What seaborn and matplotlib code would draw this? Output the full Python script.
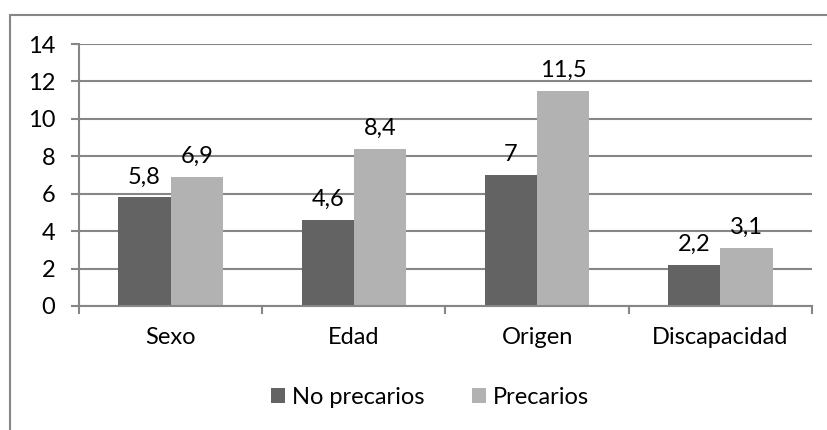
import pandas as pd
import matplotlib.pyplot as plt
import seaborn as sns
from matplotlib.patches import Rectangle

# Data
categorias = ['Sexo', 'Edad', 'Origen', 'Discapacidad']
no_precarios = [5.8, 4.6, 7.0, 2.2]
precarios = [6.9, 8.4, 11.5, 3.1]
series = ['No precarios', 'Precarios']
etiquetas_y = [0, 2, 4, 6, 8, 10, 12, 14]

df = pd.DataFrame({
    'Categoria': categorias * 2,
    'Serie': [series[0]] * 4 + [series[1]] * 4,
    'Valor': no_precarios + precarios,
})

sns.set_theme(style='white')
plt.rcParams['font.family'] = ['Lato', 'DejaVu Sans']
plt.rcParams['text.color'] = 'black'
plt.rcParams['xtick.color'] = 'black'
plt.rcParams['ytick.color'] = 'black'

fs = 17
grid_col = '#868686'
fig = plt.figure(figsize=(8.28, 4.30), dpi=100)
ax = fig.add_axes([79 / 828, 1 - 306 / 430, (812 - 79) / 828, (306 - 44) / 430])

# outer chart border (Excel-like frame)
fig.patches.append(Rectangle((10 / 828, -0.1), 1.2, 1 - 15 / 430 + 0.1,
                             transform=fig.transFigure, fill=False,
                             edgecolor=grid_col, linewidth=1.5))

sns.barplot(data=df, x='Categoria', y='Valor', hue='Serie',
            palette=['#636363', '#b2b2b2'], width=0.57, gap=0,
            saturation=1, edgecolor='none', ax=ax)

ax.set_ylim(0, 14)
ax.set_xlim(-0.5, 3.5)
ax.set_yticks(etiquetas_y)
ax.set_yticklabels([str(v) for v in etiquetas_y], fontsize=fs)
ax.yaxis.grid(True, color=grid_col, linewidth=1.5)
ax.set_axisbelow(True)
ax.set_xlabel('')
ax.set_ylabel('')

for s in ['top', 'right']:
    ax.spines[s].set_visible(False)
for s in ['left', 'bottom']:
    ax.spines[s].set_color(grid_col)
    ax.spines[s].set_linewidth(1.5)

ax.tick_params(axis='y', length=6, width=1.5, color=grid_col, pad=11, left=True,
               labelcolor='black')
ax.tick_params(axis='x', which='major', length=0, pad=15, labelsize=fs,
               labelcolor='black')
ax.set_xticks([-0.5, 0.5, 1.5, 2.5, 3.5], minor=True)
ax.tick_params(axis='x', which='minor', length=6, width=1.5, color=grid_col, bottom=True)

for cont in ax.containers:
    labels = [f'{v:g}'.replace('.', ',') for v in cont.datavalues]
    ax.bar_label(cont, labels=labels, padding=7, fontsize=fs, color='black')

ax.legend(loc='center', bbox_to_anchor=(430 / 828, 1 - 397 / 430),
          bbox_transform=fig.transFigure, ncol=2, frameon=False,
          fontsize=fs, handlelength=0.6, handleheight=0.6,
          handletextpad=0.3, columnspacing=2.0)

fig.savefig('out.png', dpi=100)
